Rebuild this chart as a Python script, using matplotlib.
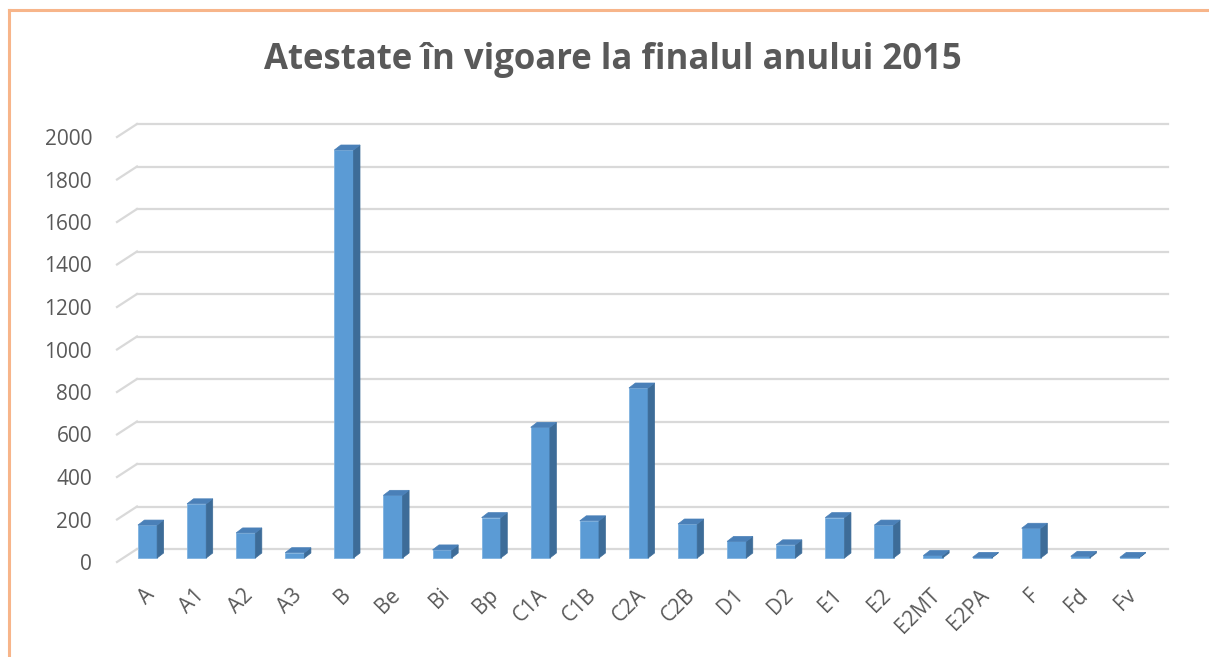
import matplotlib
matplotlib.use("Agg")
import matplotlib.pyplot as plt
from matplotlib.transforms import ScaledTranslation
from matplotlib.patches import Polygon
from matplotlib.lines import Line2D
import numpy as np

title = "Atestate în vigoare la finalul anului 2015"
categories = ["A", "A1", "A2", "A3", "B", "Be", "Bi", "Bp", "C1A", "C1B", "C2A",
              "C2B", "D1", "D2", "E1", "E2", "E2MT", "E2PA", "F", "Fd", "Fv"]
values = [155, 255, 118, 25, 1920, 295, 38, 190, 615, 175, 800,
          160, 78, 62, 190, 155, 12, 3, 140, 8, 3]
y_ticks = [0, 200, 400, 600, 800, 1000, 1200, 1400, 1600, 1800, 2000]

W, H = 1209, 657
DPI = 100
fig = plt.figure(figsize=(W / DPI, H / DPI), dpi=DPI)
fig.patch.set_facecolor("white")

# front plane of the 3D box, in pixels
left_px, right_px = 117, 1148
bottom_px, top_px = 562, 137
ax = fig.add_axes([left_px / W, (H - bottom_px) / H,
                   (right_px - left_px) / W, (bottom_px - top_px) / H])
ax.set_xlim(-0.5, len(categories) - 0.5)
ax.set_ylim(0, 2000)
ax.patch.set_alpha(0)
for s in ax.spines.values():
    s.set_visible(False)

def px_off(dx, dy):
    # dx right, dy up, in pixels
    return ScaledTranslation(dx / DPI, dy / DPI, fig.dpi_scale_trans)

grid_c = "#d9d9d9"
back = ax.transData + px_off(20, 13)
front = ax.transData
x0, x1 = -0.5, len(categories) - 0.5
for v in y_ticks:
    ax.add_line(Line2D([x0, x1], [v, v], transform=back, color=grid_c, lw=1.6, clip_on=False, zorder=1))
    # slanted line from front to back (left side wall)
    p_front = front.transform((x0, v))
    p_back = back.transform((x0, v))
    fig.add_artist(Line2D([p_front[0] / W, p_back[0] / W], [p_front[1] / H, p_back[1] / H],
                          transform=fig.transFigure, color=grid_c, lw=1.6, zorder=1))

# bars with 3D look
front_c = "#5b9bd5"
side_c = "#3d6c98"
top_c = "#4a80b8"
bar_w = 0.39
bar_shift = px_off(6, 4)
bar_t = ax.transData + bar_shift
depth_dx, depth_dy = 6.5, 5.0
# convert pixel depth to data units
sx = (x1 - x0) / (right_px - left_px)
sy = 2000 / (bottom_px - top_px)
ddx = depth_dx * sx
ddy = depth_dy * sy
x = np.arange(len(categories))
bars = ax.bar(x, values, width=bar_w, color=front_c, edgecolor="#7fb2e0", linewidth=0.6,
              transform=bar_t, zorder=3)
for xi, v in zip(x, values):
    xl, xr = xi - bar_w / 2, xi + bar_w / 2
    side = Polygon([(xr, 0), (xr + ddx, ddy), (xr + ddx, v + ddy), (xr, v)],
                   closed=True, facecolor=side_c, edgecolor=side_c, lw=0.5, transform=bar_t, zorder=3)
    top = Polygon([(xl, v), (xr, v), (xr + ddx, v + ddy), (xl + ddx, v + ddy)],
                  closed=True, facecolor=top_c, edgecolor=top_c, lw=0.5, transform=bar_t, zorder=3)
    ax.add_patch(side)
    ax.add_patch(top)

font = "Open Sans"
txt_c = "#595959"
ax.set_yticks(y_ticks)
ax.set_yticklabels([str(t) for t in y_ticks], fontsize=15, color=txt_c, family=font)
ax.tick_params(axis="y", length=0, pad=18)
ax.set_xticks(x)
ax.set_xticklabels(categories, fontsize=15, color=txt_c, family=font,
                   rotation=45, ha="right", va="center", rotation_mode="anchor")
ax.tick_params(axis="x", length=0, pad=0)
for lbl in ax.get_xticklabels():
    lbl.set_transform(lbl.get_transform() + px_off(10, -30))

fig.text(613 / W, 1 - 60 / H, title, ha="center", va="center", fontsize=25,
         fontweight="bold", color=txt_c, family=font)

# orange frame (top and left)
border_c = "#f7b58a"
fig.add_artist(Line2D([9 / W, 1], [1 - 10 / H, 1 - 10 / H], transform=fig.transFigure,
                      color=border_c, lw=2.2))
fig.add_artist(Line2D([9 / W, 9 / W], [0, 1 - 10 / H], transform=fig.transFigure,
                      color=border_c, lw=2.2))

fig.savefig("out.png", dpi=DPI, facecolor="white")
